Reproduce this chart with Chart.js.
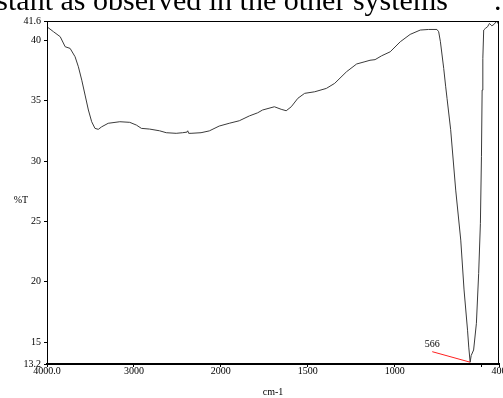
<!DOCTYPE html>
<html>
<head>
<meta charset="utf-8">
<script src="https://cdn.jsdelivr.net/npm/chart.js@4"></script>
<style>
  html, body { margin: 0; padding: 0; background: #fff; overflow: hidden; }
  #wrap { position: relative; width: 503px; height: 398px; overflow: hidden; }
  #c { position: absolute; left: 0; top: 0; }
  #txt { position: absolute; left: -47px; top: -15px; white-space: nowrap;
         font-family: "Liberation Serif", serif; font-size: 30px; line-height: 30px; color: #000; }
</style>
</head>
<body>
<div id="wrap">
  <canvas id="c" width="503" height="398"></canvas>
  <div id="txt">constant as observed in the other systems<span style="display:inline-block;width:46px"></span>.</div>
</div>
<script>
// ---- data ----
const wavenumbers = [4000,3925,3848,3791,3734,3677,3639,3600,3562,3524,3486,3448,3410,3371,3296,3162,3048,2971,2914,2819,
  2705,2628,2514,2439,2390,2381,2370,2343,2228,2133,2019,1952,1894,1836,1788,1760,1692,1653,1624,1595,1557,1518,1460,1393,
  1345,1277,1219,1171,1142,1113,1075,1026,968,911,853,805,757,747,737,718,707,699,678,649,620,601,581,574,566,
  560,546,530,517,507,501,497,493,488,479,466,455,441,427,415,406,400];
const transmittance = [41.12,40.71,40.30,39.47,39.33,38.64,37.81,36.70,35.47,34.23,33.26,32.71,32.63,32.84,33.13,33.26,33.21,32.98,32.71,32.65,
  32.51,32.35,32.30,32.35,32.40,32.51,32.30,32.30,32.35,32.50,32.90,33.13,33.34,33.74,34.00,34.23,34.50,34.29,34.17,34.50,35.20,35.61,35.74,36.02,
  36.44,37.40,38.04,38.23,38.35,38.40,38.72,39.05,39.88,40.49,40.85,40.90,40.90,40.71,39.88,37.68,36.20,35.20,32.60,27.60,23.46,19.33,16.00,14.60,13.35,
  13.90,14.36,16.57,20.70,24.85,30.36,35.88,38.50,40.85,40.98,41.12,41.40,41.20,41.34,41.59,41.40,41.60];

const xTickValues = [4000,3000,2000,1500,1000,500,400];
const xTickLabels = ["4000.0","3000","2000","1500","1000","","400"];
const yTickValues = [13.2,15,20,25,30,35,40,41.6];
const yTickLabels = ["13.2","15","20","25","30","35","40","41.6"];
const yAxisLabel = "%T";
const xAxisLabel = "cm-1";
const peakLabel = "566";
const peakWn = 566, peakT = 13.35;
const peakLabelWn = 784, peakLabelT = 14.22;

// x axis is compressed 2:1 above 2000 cm-1 (FTIR style)
function toAxis(wn) { return wn >= 2000 ? 4000 - wn : 2000 + (2000 - wn) * 2; }

const points = wavenumbers.map((w, i) => ({ x: toAxis(w), y: transmittance[i] }));
const FONT = { family: "Liberation Serif", size: 10 };

const frame = {
  id: 'frame',
  afterDraw(chart) {
    const { ctx, chartArea: a, scales } = chart;
    ctx.save();
    ctx.strokeStyle = '#000'; ctx.lineWidth = 1;
    ctx.strokeRect(a.left + 0.5, a.top + 0.5, a.right - a.left - 1, a.bottom - a.top);
    // y title, horizontal
    ctx.fillStyle = '#000';
    ctx.font = '10px "Liberation Serif"';
    ctx.textAlign = 'center'; ctx.textBaseline = 'middle';
    ctx.fillText(yAxisLabel, 21, 200);
    // peak annotation
    const x1 = scales.x.getPixelForValue(toAxis(peakLabelWn)), y1 = scales.y.getPixelForValue(peakLabelT);
    const x2 = scales.x.getPixelForValue(toAxis(peakWn)), y2 = scales.y.getPixelForValue(peakT);
    ctx.strokeStyle = '#ff2020';
    ctx.beginPath(); ctx.moveTo(x1, y1); ctx.lineTo(x2, y2); ctx.stroke();
    ctx.fillStyle = '#000';
    ctx.textBaseline = 'bottom';
    ctx.fillText(peakLabel, x1, y1 - 2);
    ctx.restore();
  }
};

new Chart(document.getElementById('c'), {
  type: 'line',
  data: { datasets: [{ data: points, borderColor: '#3a3a3a', borderWidth: 1, pointRadius: 0, tension: 0, fill: false }] },
  options: {
    responsive: false, animation: false,
    layout: { padding: { top: 21, right: 4, left: 0, bottom: 0 } },
    plugins: { legend: { display: false }, tooltip: { enabled: false } },
    scales: {
      x: {
        type: 'linear', min: 0, max: toAxis(400),
        afterBuildTicks: s => { s.ticks = xTickValues.map(w => ({ value: toAxis(w) })); },
        afterFit: s => { s.height = 34; s.paddingLeft = 0; s.paddingRight = 0; },
        ticks: { callback: (v, i) => xTickLabels[i], autoSkip: false, maxRotation: 0, font: FONT, color: '#000', padding: -2 },
        grid: { drawOnChartArea: false, tickLength: 3, color: '#000' },
        border: { color: '#000', width: 2 },
        title: { display: true, text: xAxisLabel, font: FONT, color: '#000', padding: { top: 8, bottom: 0 } }
      },
      y: {
        type: 'linear', min: 13.2, max: 41.6,
        afterBuildTicks: s => { s.ticks = yTickValues.map(v => ({ value: v })); },
        afterFit: s => { s.width = 47; s.paddingTop = 0; s.paddingBottom = 0; },
        ticks: { callback: (v, i) => yTickLabels[i], autoSkip: false, font: FONT, color: '#000', padding: 3 },
        grid: { drawOnChartArea: false, tickLength: 3, color: '#000' },
        border: { color: '#000', width: 1 }
      }
    }
  },
  plugins: [frame]
});
</script>
</body>
</html>
